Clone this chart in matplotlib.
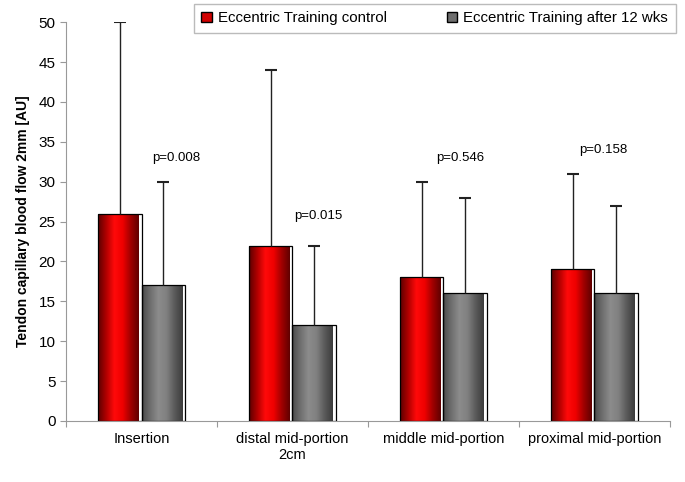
import numpy as np
import matplotlib.pyplot as plt
from matplotlib.colors import LinearSegmentedColormap
from matplotlib.patches import Patch

plt.rcParams["font.family"] = ["Liberation Sans", "DejaVu Sans"]

categories = ["Insertion", "distal mid-portion\n2cm", "middle mid-portion", "proximal mid-portion"]
series_names = ["Eccentric Training control", "Eccentric Training after 12 wks"]
control = [26, 22, 18, 19]
control_err = [24, 22, 12, 12]
after = [17, 12, 16, 16]
after_err = [13, 10, 12, 11]
p_labels = ["p=0.008", "p=0.015", "p=0.546", "p=0.158"]
p_y = [33, 25.7, 33, 34]
p_dx = [0.23, 0.17, 0.11, 0.06]

red_cmap = LinearSegmentedColormap.from_list(
    "redbar", ["#5a0000", "#b00000", "#ff0a0a", "#f00000", "#a00000", "#600000"])
gray_cmap = LinearSegmentedColormap.from_list(
    "graybar", ["#4a4a4a", "#6e6e6e", "#8c8c8c", "#808080", "#5a5a5a", "#3c3c3c"])

fig = plt.figure(figsize=(6.85, 4.82), dpi=100)
ax = fig.add_axes([0.0964, 0.1266, 0.8816, 0.8274])

x = np.arange(len(categories)) + 0.5
w = 0.29
grad = np.linspace(0, 1, 256).reshape(1, -1)


def gradient_bars(xpos, vals, cmap):
    bars = ax.bar(xpos, vals, w, facecolor="none", edgecolor="black", linewidth=0.9, zorder=3)
    for b in bars:
        x0, y0 = b.get_x(), b.get_y()
        bw, bh = b.get_width(), b.get_height()
        im = ax.imshow(grad, cmap=cmap, aspect="auto", zorder=2,
                       extent=[x0, x0 + bw * 0.93, y0, y0 + bh])
        im.set_clip_path(b)
    return bars


gradient_bars(x - w / 2, control, red_cmap)
gradient_bars(x + w / 2, after, gray_cmap)

for xs, vals, errs in [(x - w / 2, control, control_err), (x + w / 2, after, after_err)]:
    eb = ax.errorbar(xs, vals, yerr=[np.zeros(4), errs], fmt="none",
                     ecolor="#222222", elinewidth=1, capsize=4, capthick=1.5, zorder=4)
    eb[1][0].set_visible(False)

for xi, dx, lab, yi in zip(x, p_dx, p_labels, p_y):
    ax.text(xi + dx, yi, lab, ha="center", va="center", fontsize=9.5)

ax.set_xlim(0, 4)
ax.set_ylim(0, 50)
ax.set_yticks(np.arange(0, 51, 5))
ax.set_xticks(np.arange(0, 5))
ax.set_xticklabels([])
ax.set_xticks(x, minor=True)
ax.set_xticklabels(categories, minor=True, fontsize=10.5)
ax.tick_params(axis="x", which="minor", length=0, pad=8)
ax.tick_params(axis="x", which="major", length=4, color="#999999")
ax.tick_params(axis="y", length=4, color="#999999", labelsize=11)

for s in ["top", "right"]:
    ax.spines[s].set_visible(False)
for s in ["left", "bottom"]:
    ax.spines[s].set_color("#999999")

ax.set_ylabel("Tendon capillary blood flow 2mm [AU]", fontsize=10, fontweight="bold", labelpad=6)

handles = [Patch(facecolor="#d00000", edgecolor="black"),
           Patch(facecolor="#6e6e6e", edgecolor="black")]
leg = fig.legend(handles, series_names, loc="upper left", bbox_to_anchor=(0.272, 1.008),
                 ncol=2, fontsize=10.8, frameon=True, fancybox=False, handlelength=0.7,
                 handleheight=0.7, columnspacing=4.0, borderpad=0.5, handletextpad=0.4)
leg.get_frame().set_edgecolor("#aaaaaa")
leg.get_frame().set_linewidth(1)

fig.savefig("out.png", dpi=100)
